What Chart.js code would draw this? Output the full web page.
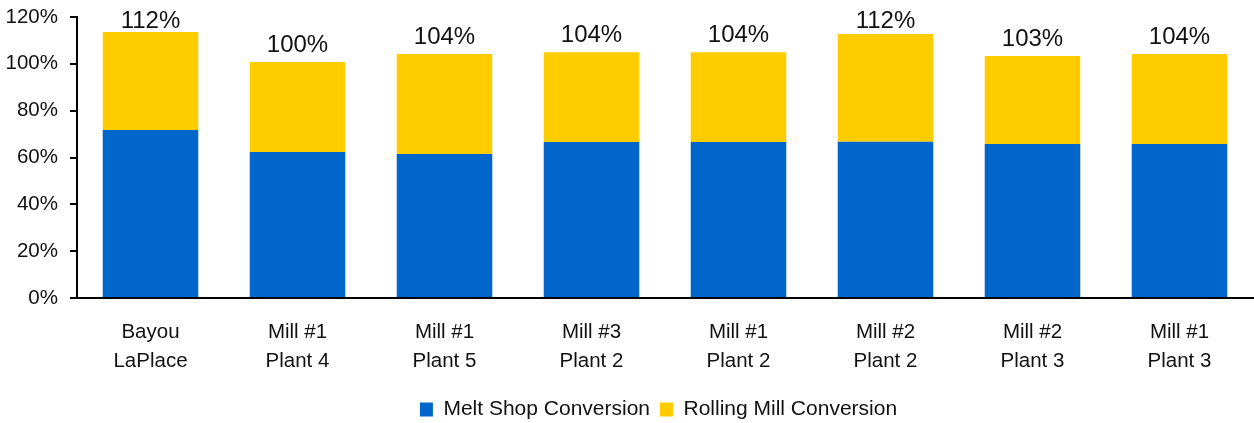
<!DOCTYPE html>
<html>
<head>
<meta charset="utf-8">
<script src="https://cdn.jsdelivr.net/npm/chart.js@4"></script>
<style>
  body { margin: 0; background: #fff; }
  #wrap { width: 1254px; height: 423px; }
</style>
</head>
<body>
<div id="wrap"><canvas id="myChart" width="1254" height="423"></canvas></div>
<script>
// data
const categories = [
  ['Bayou', 'LaPlace'], ['Mill #1', 'Plant 4'], ['Mill #1', 'Plant 5'], ['Mill #3', 'Plant 2'],
  ['Mill #1', 'Plant 2'], ['Mill #2', 'Plant 2'], ['Mill #2', 'Plant 3'], ['Mill #1', 'Plant 3']
];
const meltShop = [71.7, 62.3, 61.5, 66.6, 66.6, 66.7, 65.8, 65.8];
const rollingMill = [41.9, 38.5, 42.7, 38.4, 38.4, 46.0, 37.5, 38.4];
const totalLabels = ['112%', '100%', '104%', '104%', '104%', '112%', '103%', '104%'];
const yTicks = [0, 20, 40, 60, 80, 100, 120];

const FONT = "'Liberation Sans', Arial, sans-serif";

// total label above each stack + legend nudge
const totalsPlugin = {
  id: 'totals',
  afterLayout(chart) {
    // legend sits a bit right of the canvas centre in the original
    chart.legend.left += 32;
    chart.legend.right += 32;
  },
  afterDatasetsDraw(chart) {
    const ctx = chart.ctx;
    const top = chart.getDatasetMeta(1);
    ctx.save();
    ctx.font = '24px ' + FONT;
    ctx.fillStyle = '#111';
    ctx.textAlign = 'center';
    ctx.textBaseline = 'middle';
    top.data.forEach(function (bar, i) {
      var y = Math.max(bar.y - 17, 21);
      ctx.fillText(totalLabels[i], bar.x, y);
    });
    ctx.restore();
  }
};

const ctx = document.getElementById('myChart');

new Chart(ctx, {
  type: 'bar',
  data: {
    labels: categories,
    datasets: [{
      label: 'Melt Shop Conversion',
      data: meltShop,
      backgroundColor: '#0066CC',
      borderWidth: 0
    }, {
      label: 'Rolling Mill Conversion',
      data: rollingMill,
      backgroundColor: '#FFCC00',
      borderWidth: 0
    }]
  },
  options: {
    responsive: false,
    animation: false,
    layout: { padding: { top: 0, right: 1, left: 0, bottom: -7 } },
    datasets: { bar: { categoryPercentage: 1, barPercentage: 0.65 } },
    plugins: {
      tooltip: { enabled: false },
      legend: {
        position: 'bottom',
        labels: {
          boxWidth: 13,
          boxHeight: 14,
          padding: 10,
          color: '#111',
          font: { family: FONT, size: 21 }
        }
      }
    },
    scales: {
      x: {
        stacked: true,
        afterFit: function (scale) { scale.height = 91; },
        grid: { display: false },
        border: { color: '#000', width: 2 },
        ticks: {
          color: '#111',
          padding: 12,
          maxRotation: 0,
          font: { family: FONT, size: 20.5, lineHeight: 1.4 }
        }
      },
      y: {
        stacked: true,
        min: 0,
        max: 120,
        afterFit: function (scale) { scale.width = 77; scale.paddingTop = 17; },
        afterBuildTicks: function (scale) {
          scale.ticks = yTicks.map(function (v) { return { value: v }; });
        },
        grid: { drawOnChartArea: false, drawTicks: true, tickLength: 7, color: '#000', lineWidth: 2 },
        border: { color: '#000', width: 2 },
        ticks: {
          color: '#111',
          padding: 12,
          font: { family: FONT, size: 20.5 },
          callback: function (v) { return v + '%'; }
        }
      }
    }
  },
  plugins: [totalsPlugin]
});
</script>
</body>
</html>
